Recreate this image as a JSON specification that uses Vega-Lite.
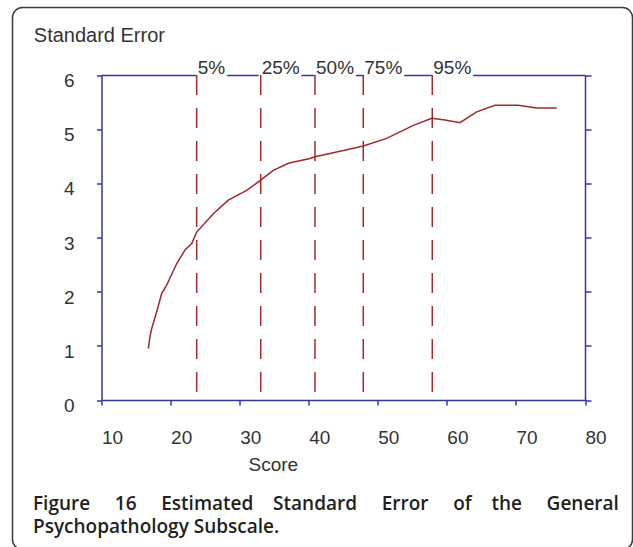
{
  "$schema": "https://vega.github.io/schema/vega-lite/v6.json",
  "width": 620,
  "height": 542,
  "autosize": "none",
  "padding": {"left": 12.5, "top": 7.5, "right": 0, "bottom": 0},
  "background": "white",
  "config": {
    "view": {"stroke": "#3c3c3c", "strokeWidth": 1.5, "cornerRadius": 10},
    "font": "Liberation Sans"
  },
  "title": {
    "text": ["Figure\u00a0\u00a0\u00a0\u00a0\u00a016\u00a0\u00a0\u00a0\u00a0\u00a0Estimated\u00a0\u00a0\u00a0\u00a0Standard\u00a0\u00a0\u00a0\u00a0\u00a0Error\u00a0\u00a0\u00a0\u00a0\u00a0of\u00a0\u00a0\u00a0\u00a0the\u00a0\u00a0\u00a0\u00a0\u00a0General", "Psychopathology Subscale."],
    "orient": "bottom",
    "anchor": "start",
    "frame": "group",
    "font": "Open Sans",
    "fontSize": 19,
    "fontWeight": 600,
    "color": "#231f20",
    "lineHeight": 23,
    "baseline": "alphabetic",
    "offset": 0,
    "dx": 20.5,
    "dy": -40
  },
  "datasets": {
    "curve": [
      {"score": 16.78, "se": 0.95},
      {"score": 17.02, "se": 1.17},
      {"score": 17.27, "se": 1.32},
      {"score": 17.99, "se": 1.63},
      {"score": 18.72, "se": 1.97},
      {"score": 19.44, "se": 2.12},
      {"score": 20.89, "se": 2.52},
      {"score": 22.09, "se": 2.77},
      {"score": 23.06, "se": 2.89},
      {"score": 23.78, "se": 3.1},
      {"score": 26.19, "se": 3.44},
      {"score": 28.36, "se": 3.69},
      {"score": 31.02, "se": 3.87},
      {"score": 32.95, "se": 4.05},
      {"score": 34.87, "se": 4.24},
      {"score": 37.05, "se": 4.37},
      {"score": 40.19, "se": 4.46},
      {"score": 40.91, "se": 4.49},
      {"score": 44.05, "se": 4.58},
      {"score": 45.5, "se": 4.62},
      {"score": 47.9, "se": 4.69},
      {"score": 51.29, "se": 4.83},
      {"score": 55.14, "se": 5.07},
      {"score": 57.8, "se": 5.2},
      {"score": 59.73, "se": 5.17},
      {"score": 61.9, "se": 5.12},
      {"score": 64.32, "se": 5.32},
      {"score": 66.97, "se": 5.44},
      {"score": 70.34, "se": 5.44},
      {"score": 73.0, "se": 5.39},
      {"score": 75.9, "se": 5.39}
    ],
    "quantiles": [
      {"pct": " 5%", "score": 23.78},
      {"pct": "25%", "score": 33.05},
      {"pct": "50%", "score": 40.91},
      {"pct": "75%", "score": 47.9},
      {"pct": "95%", "score": 57.89}
    ]
  },
  "resolve": {"axis": {"x": "independent", "y": "independent"}},
  "layer": [
    {
      "data": {"name": "quantiles"},
      "mark": {"type": "text", "align": "left", "baseline": "alphabetic", "dx": 1, "dy": -1, "fontSize": 19, "fill": "white", "stroke": "white", "strokeWidth": 8},
      "encoding": {
        "x": {"field": "score", "type": "quantitative", "scale": {"domain": [10, 80], "range": [89, 572.5]}, "axis": {"orient": "top", "offset": -67.5, "ticks": false, "labels": false, "title": null, "grid": false, "domainColor": "#3535a5", "domainWidth": 1.5}},
        "y": {"datum": 6, "type": "quantitative", "scale": {"domain": [0, 6], "range": [392.5, 67.5]}, "axis": {"orient": "right", "offset": -47.5, "values": [0, 1, 2, 3, 4, 5, 6], "tickSize": 6, "tickColor": "#3535a5", "tickWidth": 1.5, "labels": false, "title": null, "grid": false, "domainColor": "#3535a5", "domainWidth": 1.5}},
        "text": {"field": "pct"}
      }
    },
    {
      "data": {"name": "quantiles"},
      "mark": {"type": "rule", "color": "#a52a2a", "strokeWidth": 1.5, "strokeDash": [20, 13]},
      "encoding": {
        "x": {"field": "score", "type": "quantitative", "scale": {"domain": [10, 80], "range": [89, 572.5]}, "axis": null},
        "y": {"datum": 6, "type": "quantitative", "scale": {"domain": [0, 6], "range": [392.5, 67.5]}, "axis": null},
        "y2": {"datum": 0}
      }
    },
    {
      "data": {"name": "curve"},
      "mark": {"type": "line", "color": "#a0282a", "strokeWidth": 1.5},
      "encoding": {
        "x": {"field": "score", "type": "quantitative", "scale": {"domain": [10, 80], "range": [89, 572.5]},
          "axis": {"orient": "bottom", "offset": -149.5, "values": [10, 20, 30, 40, 50, 60, 70, 80], "tickSize": 5, "tickColor": "#3535a5", "tickWidth": 1.5, "domainColor": "#3535a5", "domainWidth": 1.5, "grid": false,
            "labelAlign": "left", "labelBaseline": "alphabetic", "labelPadding": 38, "labelFontSize": 19, "labelColor": "#333333", "labelFlush": false, "labelOverlap": false,
            "title": "Score", "titleFontSize": 19, "titleFontWeight": "normal", "titleColor": "#333333", "titleX": 260.3, "titleY": 70, "titleBaseline": "alphabetic", "titleAlign": "center"}},
        "y": {"field": "se", "type": "quantitative", "scale": {"domain": [0, 6], "range": [392.5, 67.5]},
          "axis": {"orient": "left", "offset": -89, "values": [0, 1, 2, 3, 4, 5, 6], "tickSize": 5, "tickColor": "#3535a5", "tickWidth": 1.5, "domainColor": "#3535a5", "domainWidth": 1.5, "grid": false,
            "labelAlign": "right", "labelBaseline": "alphabetic", "labelPadding": 22.5, "labelOffset": 11.5, "labelFontSize": 19, "labelColor": "#333333", "labelOverlap": false,
            "title": "Standard Error", "titleAngle": 0, "titleAlign": "left", "titleBaseline": "alphabetic", "titleX": -68.2, "titleY": 34.2, "titleFontSize": 20, "titleFontWeight": "normal", "titleColor": "#333333"}}
      }
    },
    {
      "data": {"name": "quantiles"},
      "mark": {"type": "text", "align": "left", "baseline": "alphabetic", "dx": 1, "dy": -1, "fontSize": 19, "color": "#333333"},
      "encoding": {
        "x": {"field": "score", "type": "quantitative", "scale": {"domain": [10, 80], "range": [89, 572.5]}, "axis": null},
        "y": {"datum": 6, "type": "quantitative", "scale": {"domain": [0, 6], "range": [392.5, 67.5]}, "axis": null},
        "text": {"field": "pct"}
      }
    }
  ]
}
